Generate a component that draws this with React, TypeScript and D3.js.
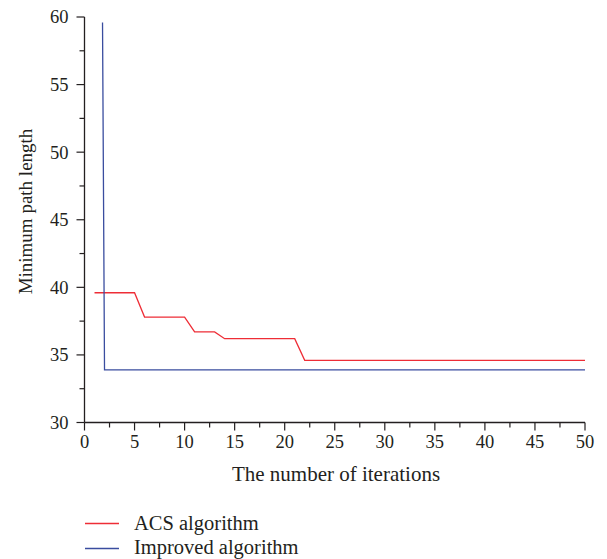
import React from "react";
import * as d3 from "d3";

const acsX = [1, 5, 6, 10, 11, 13, 14, 21, 22, 50];
const acsY = [39.6, 39.6, 37.8, 37.8, 36.7, 36.7, 36.2, 36.2, 34.6, 34.6];
const impX = [1.8, 2, 50];
const impY = [59.6, 33.9, 33.9];
const xTicks = [0, 5, 10, 15, 20, 25, 30, 35, 40, 45, 50];
const yTicks = [30, 35, 40, 45, 50, 55, 60];
const seriesNames = ["ACS algorithm", "Improved algorithm"];
const colors = ["#ee2d36", "#3a4d9f"];

export default function App() {
  const W = 607, H = 559;
  const x = d3.scaleLinear().domain([0, 50]).range([84.5, 585]);
  const y = d3.scaleLinear().domain([30, 60]).range([422.5, 17]);
  const line = d3.line<[number, number]>().x(d => x(d[0])).y(d => y(d[1]));
  const acs = acsX.map((v, i) => [v, acsY[i]] as [number, number]);
  const imp = impX.map((v, i) => [v, impY[i]] as [number, number]);
  const xMinor = d3.range(2.5, 50, 5);
  const yMinor = d3.range(32.5, 60, 5);
  const font = "'Liberation Serif', 'Times New Roman', serif";
  const axisColor = "#231f20";
  return (
    <svg width={W} height={H} style={{ position: "absolute", left: 0, top: 0 }} fontFamily={font}>
      <rect width={W} height={H} fill="#fff" />
      {/* axes */}
      <line x1={x(0)} x2={x(0)} y1={y(60)} y2={y(30)} stroke={axisColor} strokeWidth={1.3} />
      <line x1={x(0)} x2={x(50)} y1={y(30)} y2={y(30)} stroke={axisColor} strokeWidth={1.3} />
      {yTicks.map(t => (
        <g key={"y" + t}>
          <line x1={x(0) - 8} x2={x(0)} y1={y(t)} y2={y(t)} stroke={axisColor} strokeWidth={1.2} />
          <text x={x(0) - 16} y={y(t)} dy="0.35em" textAnchor="end" fontSize={18.5} fill="#231f20">{t}</text>
        </g>
      ))}
      {yMinor.map(t => (
        <line key={"ym" + t} x1={x(0) - 5} x2={x(0)} y1={y(t)} y2={y(t)} stroke={axisColor} strokeWidth={1.2} />
      ))}
      {xTicks.map(t => (
        <g key={"x" + t}>
          <line x1={x(t)} x2={x(t)} y1={y(30)} y2={y(30) + 8} stroke={axisColor} strokeWidth={1.2} />
          <text x={x(t)} y={y(30) + 25} textAnchor="middle" fontSize={18.5} fill="#231f20">{t}</text>
        </g>
      ))}
      {xMinor.map(t => (
        <line key={"xm" + t} x1={x(t)} x2={x(t)} y1={y(30)} y2={y(30) + 5} stroke={axisColor} strokeWidth={1.2} />
      ))}
      <text x={336} y={481} textAnchor="middle" fontSize={21} fill="#231f20">The number of iterations</text>
      <text transform={`translate(32,211.5) rotate(-90)`} textAnchor="middle" fontSize={19} fill="#231f20">Minimum path length</text>
      {/* series */}
      <path d={line(acs) || ""} fill="none" stroke={colors[0]} strokeWidth={1.3} />
      <path d={line(imp) || ""} fill="none" stroke={colors[1]} strokeWidth={1.3} />
      {/* legend */}
      {seriesNames.map((n, i) => (
        <g key={n}>
          <line x1={85} x2={119} y1={523.5 + i * 25} y2={523.5 + i * 25} stroke={colors[i]} strokeWidth={1.3} />
          <text x={134} y={529.5 + i * 24} fontSize={20.5} fill="#231f20">{n}</text>
        </g>
      ))}
    </svg>
  );
}
